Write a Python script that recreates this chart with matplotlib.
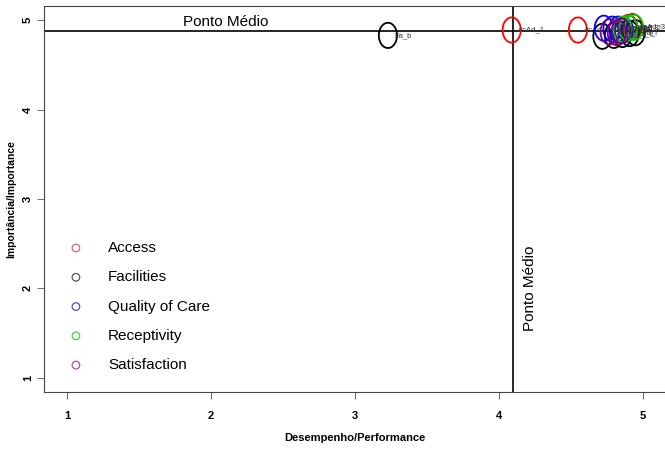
import matplotlib
matplotlib.use("Agg")
import matplotlib.pyplot as plt
import numpy as np
from matplotlib.path import Path

plt.rcParams['font.family'] = ['Liberation Sans', 'DejaVu Sans']

# performance / importance per item
access_x = [4.09, 4.55, 4.90, 4.93]
access_y = [4.89, 4.89, 4.92, 4.93]
access_lab = ["AcAd_1", "AcAc_4", "AcAd_2", "AcAd_3"]

facil_x = [3.23, 4.72, 4.80, 4.86, 4.91, 4.95]
facil_y = [4.83, 4.82, 4.83, 4.84, 4.85, 4.86]
facil_lab = ["Fa_b", "Fa_a", "Fa_c", "Fa_d", "Fa_e", "Fa_f"]

qual_x = [4.73, 4.79, 4.83, 4.87]
qual_y = [4.91, 4.90, 4.90, 4.89]
qual_lab = ["QC_1", "QC_2", "QC_3", "QC_4"]

recep_x = [4.86, 4.90, 4.94]
recep_y = [4.90, 4.91, 4.92]
recep_lab = ["Re_1", "Re_2", "Re_3"]

satis_x = [4.77, 4.82, 4.85]
satis_y = [4.87, 4.86, 4.88]
satis_lab = ["Sa_1", "Sa_2", "Sa_3"]

mid_x = 4.097
mid_y = 4.877

groups = [
    ("Access", "red", access_x, access_y, access_lab),
    ("Facilities", "black", facil_x, facil_y, facil_lab),
    ("Quality of Care", "blue", qual_x, qual_y, qual_lab),
    ("Receptivity", "#00cc00", recep_x, recep_y, recep_lab),
    ("Satisfaction", "purple", satis_x, satis_y, satis_lab),
]

# stretched circle marker (R device aspect)
t = np.linspace(0, 2 * np.pi, 60)
ell = Path(np.column_stack([0.72 * np.cos(t), np.sin(t)]))

fig = plt.figure(figsize=(6.65, 4.54), dpi=100)
ax = fig.add_axes([0.066, 0.1366, 0.934, 0.8504])

for name, col, xs, ys, labs in groups:
    ax.scatter(xs, ys, s=330, marker=ell, facecolors="none", edgecolors=col, linewidths=1.3, zorder=3)
    for x, y, l in zip(xs, ys, labs):
        ax.text(x + 0.045, y, l, fontsize=5.5, va="center", ha="left", color="#333333")

ax.axhline(mid_y, color="black", lw=1.2)
ax.axvline(mid_x, color="black", lw=1.2)
ax.text(2.1, mid_y + 0.02, "Ponto Médio", fontsize=11, ha="center", va="bottom")
ax.text(mid_x + 0.12, 2.0, "Ponto Médio", fontsize=11, rotation=90, ha="center", va="center")

ax.set_xlim(0.84, 5.155)
ax.set_ylim(0.84, 5.16)
ax.set_xticks([1, 2, 3, 4, 5])
ax.set_yticks([1, 2, 3, 4, 5])
ax.tick_params(direction="out", length=5, labelsize=8, width=0.6, color="#555555")
for lab in ax.get_xticklabels():
    lab.set_fontweight("bold")
for lab in ax.get_yticklabels():
    lab.set_fontweight("bold")
    lab.set_rotation(90)
    lab.set_va("center")
ax.tick_params(axis="x", pad=9)
ax.tick_params(axis="y", pad=3)
ax.spines["right"].set_visible(False)
for s in ["left", "top", "bottom"]:
    ax.spines[s].set_color("#444444")
    ax.spines[s].set_linewidth(0.8)

ax.set_xlabel("Desempenho/Performance", fontsize=8, fontweight="bold", labelpad=8)
ax.set_ylabel("Importância/Importance", fontsize=7.5, fontweight="bold", labelpad=5)

legend_cols = ["#e06070", "#555555", "#5050c0", "#40d040", "#a050b0"]
handles = [ax.scatter([], [], s=30, marker="o", facecolors="none", edgecolors=c, linewidths=0.9)
           for c in legend_cols]
ax.legend(handles, [g[0] for g in groups], loc="lower left", bbox_to_anchor=(-0.005, 0.0),
          frameon=False, fontsize=11, labelspacing=1.0, handletextpad=1.1, borderpad=0.8)

fig.savefig("out.png", dpi=100)
